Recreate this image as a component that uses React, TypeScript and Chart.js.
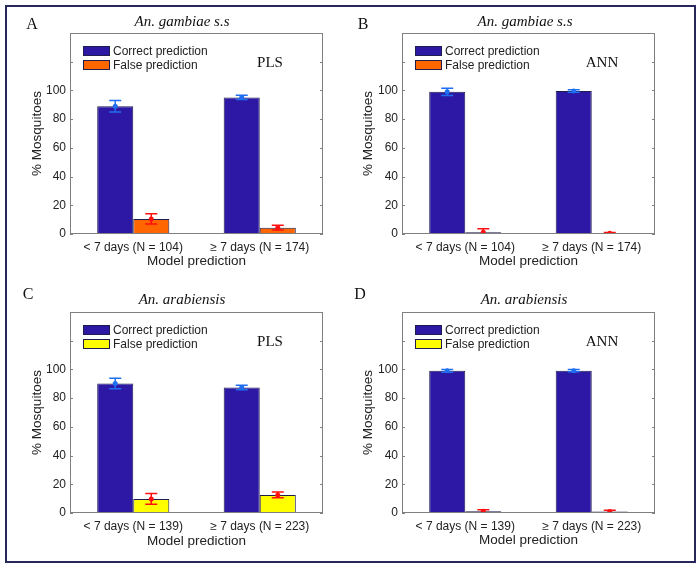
import React, { useEffect, useRef } from "react";
import { Chart, registerables } from "chart.js";

Chart.register(...registerables);

// ---------- data ----------
const categoriesGambiae = ["< 7 days (N = 104)", "\u2265 7 days (N = 174)"];
const categoriesArabiensis = ["< 7 days (N = 139)", "\u2265 7 days (N = 223)"];
const seriesNames = ["Correct prediction", "False prediction"];

const aCorrect = [89, 95.1];
const aCorrectErr = [4, 1.5];
const aFalse = [10.5, 4.4];
const aFalseErr = [3.6, 1.7];

const bCorrect = [99, 99.6];
const bCorrectErr = [2.6, 0.8];
const bFalse = [1.2, 0.5];
const bFalseErr = [2.5, 0.5];

const cCorrect = [90.2, 87.4];
const cCorrectErr = [3.6, 1.5];
const cFalse = [9.8, 12.6];
const cFalseErr = [3.7, 2];

const dCorrect = [99, 99.1];
const dCorrectErr = [0.9, 0.8];
const dFalse = [1.2, 1.1];
const dFalseErr = [1, 0.9];

const yMax = 140;
const yStep = 20;
const yLabelMax = 100;

// ---------- styles ----------
const BLUE = "#2d18a6";
const ORANGE = "#ff6600";
const YELLOW = "#ffff00";
const EDGE = "#1e1e4e";
const ERR_BLUE = "#1f6ff0";
const ERR_RED = "#ff1010";
const AXIS = "#808080";
const TEXT = "#222222";
const SANS = "'Liberation Sans', Arial, sans-serif";
const SERIF = "'Liberation Serif', 'Times New Roman', serif";

type PanelProps = {
  letter: string;
  title: string;
  method: string;
  categories: string[];
  correct: number[];
  correctErr: number[];
  falseVals: number[];
  falseErr: number[];
  falseColor: string;
  left: number;
  top: number;
  width: number;
  height: number;
  plotLeft: number;
  plotTop: number;
  plotRight: number;
  plotBottom: number;
  yTitlePad: number;
  xTitlePad: number;
  titleX: number;
  titleY: number;
  letterX: number;
  letterY: number;
};

function Panel(p: PanelProps) {
  const ref = useRef<HTMLCanvasElement | null>(null);

  useEffect(() => {
    if (!ref.current) return;
    const errs = [p.correctErr, p.falseErr];
    const errColors = [ERR_BLUE, ERR_RED];
    const fills = [BLUE, p.falseColor];

    const decor = {
      id: "decor",
      afterDatasetsDraw(chart: any) {
        const ctx = chart.ctx;
        const ys = chart.scales.y;
        const area = chart.chartArea;
        ctx.save();
        ctx.beginPath();
        ctx.rect(area.left, area.top, area.right - area.left, area.bottom - area.top);
        ctx.clip();
        chart.data.datasets.forEach((ds: any, i: number) => {
          const meta = chart.getDatasetMeta(i);
          meta.data.forEach((bar: any, j: number) => {
            const v = ds.data[j];
            const e = errs[i][j];
            const x = bar.x;
            const y1 = ys.getPixelForValue(v + e);
            const y0 = ys.getPixelForValue(v - e);
            const yc = ys.getPixelForValue(v);
            ctx.strokeStyle = errColors[i];
            ctx.fillStyle = errColors[i];
            ctx.lineWidth = 1.5;
            ctx.beginPath();
            ctx.moveTo(x, y1);
            ctx.lineTo(x, y0);
            ctx.moveTo(x - 6, y1);
            ctx.lineTo(x + 6, y1);
            ctx.moveTo(x - 6, y0);
            ctx.lineTo(x + 6, y0);
            ctx.stroke();
            ctx.beginPath();
            ctx.arc(x, yc, 2.5, 0, Math.PI * 2);
            ctx.fill();
          });
        });
        ctx.restore();
      },
      afterDraw(chart: any) {
        const ctx = chart.ctx;
        const ys = chart.scales.y;
        const a = chart.chartArea;
        ctx.save();
        // axes box
        ctx.strokeStyle = AXIS;
        ctx.lineWidth = 1;
        ctx.strokeRect(a.left + 0.5, a.top + 0.5, a.right - a.left - 1, a.bottom - a.top - 1);
        // inward ticks on both sides
        ctx.beginPath();
        ys.ticks.forEach((t: any) => {
          const y = Math.round(ys.getPixelForValue(t.value)) + 0.5;
          ctx.moveTo(a.left, y);
          ctx.lineTo(a.left + 3, y);
          ctx.moveTo(a.right - 3, y);
          ctx.lineTo(a.right, y);
        });
        ctx.stroke();

        // legend
        const lx = a.left + 13;
        const ly = a.top + 13;
        chart.data.datasets.forEach((ds: any, i: number) => {
          const py = ly + i * 14;
          ctx.fillStyle = fills[i];
          ctx.fillRect(lx, py, 27, 10);
          ctx.strokeStyle = EDGE;
          ctx.lineWidth = 1;
          ctx.strokeRect(lx + 0.5, py + 0.5, 26, 9);
          ctx.fillStyle = TEXT;
          ctx.font = `12px ${SANS}`;
          ctx.textAlign = "left";
          ctx.textBaseline = "middle";
          ctx.fillText(ds.label, lx + 30, py + 5.5);
        });

        // method label
        ctx.fillStyle = "#111";
        ctx.font = `15px ${SERIF}`;
        ctx.textAlign = "center";
        ctx.textBaseline = "middle";
        ctx.fillText(p.method, a.left + 200, a.top + 30);

        // title
        ctx.font = `italic 15px ${SERIF}`;
        ctx.fillText(p.title, p.titleX, p.titleY);

        // panel letter
        ctx.font = `16px ${SERIF}`;
        ctx.fillText(p.letter, p.letterX, p.letterY);
        ctx.restore();
      },
    };

    const chart = new Chart(ref.current, {
      type: "bar",
      data: {
        labels: p.categories,
        datasets: [
          {
            label: seriesNames[0],
            data: p.correct,
            backgroundColor: BLUE,
            borderColor: EDGE,
            borderWidth: 1,
            borderSkipped: false,
            categoryPercentage: 0.57,
            barPercentage: 1,
          },
          {
            label: seriesNames[1],
            data: p.falseVals,
            backgroundColor: p.falseColor,
            borderColor: EDGE,
            borderWidth: 1,
            borderSkipped: false,
            categoryPercentage: 0.57,
            barPercentage: 1,
          },
        ],
      },
      options: {
        animation: false,
        responsive: false,
        maintainAspectRatio: false,
        layout: {
          padding: { left: 0, top: p.plotTop, right: p.width - p.plotRight, bottom: 0 },
        },
        plugins: {
          legend: { display: false },
          title: { display: false },
          tooltip: { enabled: false },
        },
        scales: {
          x: {
            type: "category",
            offset: true,
            grid: { display: false, drawTicks: false },
            border: { display: false },
            ticks: {
              padding: 6,
              maxRotation: 0,
              autoSkip: false,
              color: TEXT,
              font: { family: SANS, size: 12 },
            },
            title: {
              display: true,
              text: "Model prediction",
              color: TEXT,
              font: { family: SANS, size: 13.5 },
              padding: { top: 0, bottom: p.xTitlePad },
            },
            afterFit: (s: any) => {
              s.height = p.height - p.plotBottom;
            },
          },
          y: {
            min: 0,
            max: yMax,
            grid: { display: false, drawTicks: false },
            border: { display: false },
            ticks: {
              stepSize: yStep,
              padding: 4,
              color: TEXT,
              font: { family: SANS, size: 12 },
              callback: (v: any) => (Number(v) <= yLabelMax ? String(v) : ""),
            },
            title: {
              display: true,
              text: "% Mosquitoes",
              color: TEXT,
              font: { family: SANS, size: 13.5 },
              padding: { top: p.yTitlePad, bottom: 0 },
            },
            afterFit: (s: any) => {
              s.width = p.plotLeft;
            },
          },
        },
      },
      plugins: [decor],
    } as any);

    return () => chart.destroy();
  }, []);

  return (
    <canvas
      ref={ref}
      width={p.width}
      height={p.height}
      style={{
        position: "absolute",
        left: p.left,
        top: p.top,
        width: p.width,
        height: p.height,
      }}
    />
  );
}

export default function App() {
  return (
    <div
      style={{
        position: "absolute",
        left: 0,
        top: 0,
        width: 700,
        height: 568,
        background: "#ffffff",
        overflow: "hidden",
      }}
    >
      <Panel
        letter="A"
        title="An. gambiae s.s"
        method="PLS"
        categories={categoriesGambiae}
        correct={aCorrect}
        correctErr={aCorrectErr}
        falseVals={aFalse}
        falseErr={aFalseErr}
        falseColor={ORANGE}
        left={0}
        top={0}
        width={350}
        height={280}
        plotLeft={70}
        plotTop={33}
        plotRight={323}
        plotBottom={234}
        yTitlePad={29}
        xTitlePad={11}
        titleX={182}
        titleY={22}
        letterX={32}
        letterY={25}
      />
      <Panel
        letter="B"
        title="An. gambiae s.s"
        method="ANN"
        categories={categoriesGambiae}
        correct={bCorrect}
        correctErr={bCorrectErr}
        falseVals={bFalse}
        falseErr={bFalseErr}
        falseColor={ORANGE}
        left={350}
        top={0}
        width={350}
        height={280}
        plotLeft={52}
        plotTop={33}
        plotRight={305}
        plotBottom={234}
        yTitlePad={10}
        xTitlePad={11}
        titleX={175}
        titleY={22}
        letterX={13}
        letterY={25}
      />
      <Panel
        letter="C"
        title="An. arabiensis"
        method="PLS"
        categories={categoriesArabiensis}
        correct={cCorrect}
        correctErr={cCorrectErr}
        falseVals={cFalse}
        falseErr={cFalseErr}
        falseColor={YELLOW}
        left={0}
        top={280}
        width={350}
        height={288}
        plotLeft={70}
        plotTop={32}
        plotRight={323}
        plotBottom={233}
        yTitlePad={29}
        xTitlePad={19}
        titleX={182}
        titleY={20}
        letterX={28}
        letterY={15}
      />
      <Panel
        letter="D"
        title="An. arabiensis"
        method="ANN"
        categories={categoriesArabiensis}
        correct={dCorrect}
        correctErr={dCorrectErr}
        falseVals={dFalse}
        falseErr={dFalseErr}
        falseColor={YELLOW}
        left={350}
        top={280}
        width={350}
        height={288}
        plotLeft={52}
        plotTop={32}
        plotRight={305}
        plotBottom={233}
        yTitlePad={10}
        xTitlePad={20}
        titleX={174}
        titleY={20}
        letterX={10}
        letterY={15}
      />
      <div
        style={{
          position: "absolute",
          left: 5,
          top: 5,
          width: 687,
          height: 554,
          border: "2px solid #27275c",
          pointerEvents: "none",
        }}
      />
    </div>
  );
}
